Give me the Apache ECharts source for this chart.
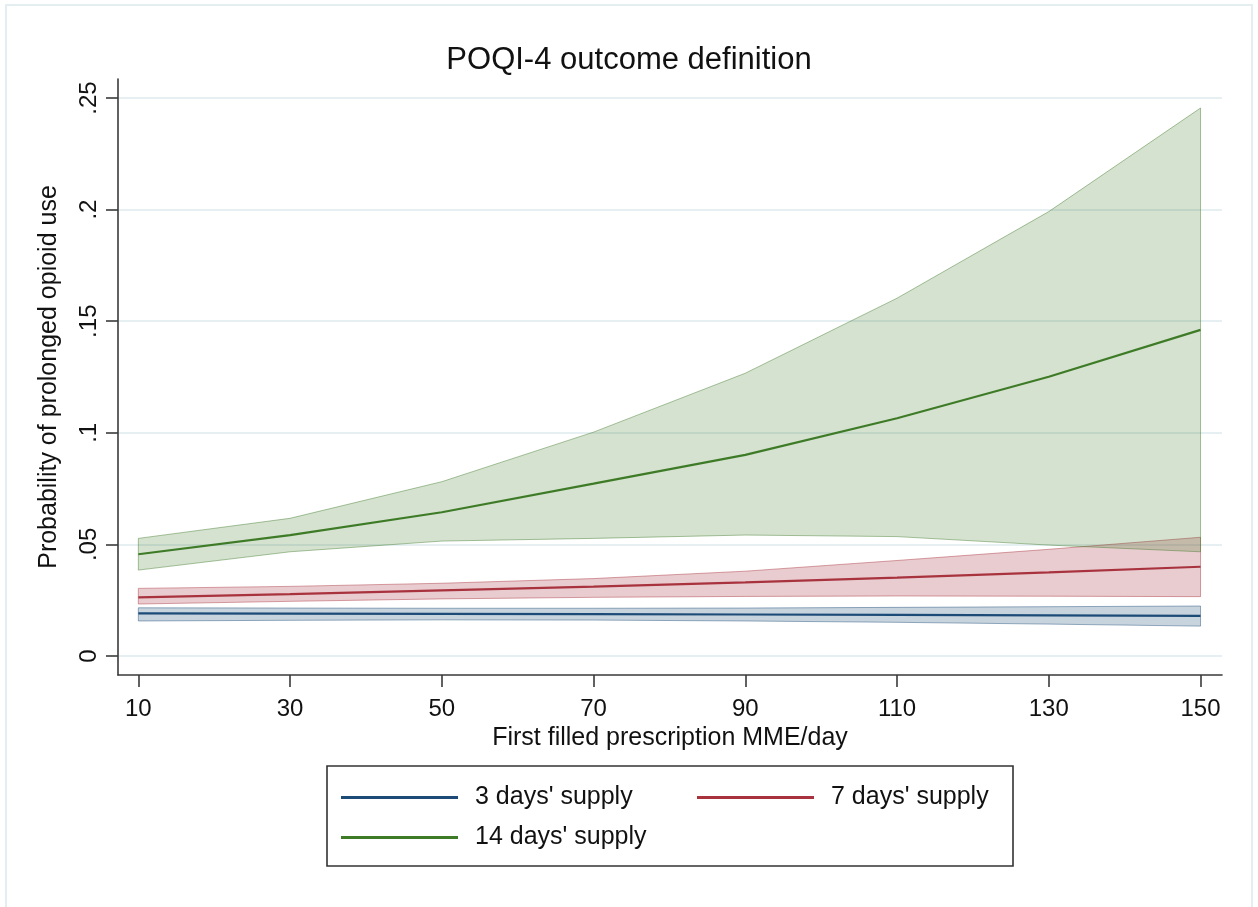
<!DOCTYPE html>
<html>
<head>
<meta charset="utf-8">
<title>POQI-4 outcome definition</title>
<script src="https://cdn.jsdelivr.net/npm/echarts@6/dist/echarts.min.js"></script>
<style>
  html, body { margin: 0; padding: 0; background: #ffffff; }
  #chart { width: 1258px; height: 907px; }
</style>
</head>
<body>
<div id="chart"></div>
<script>
// First filled prescription MME/day
const mmeValues = [10, 30, 50, 70, 90, 110, 130, 150];

// Predicted probability and 95% CI, 3 days' supply
const supply3Mean  = [0.0191, 0.0190, 0.0189, 0.0188, 0.0186, 0.0184, 0.0182, 0.0180];
const supply3Upper = [0.0216, 0.0215, 0.0214, 0.0214, 0.0215, 0.0218, 0.0221, 0.0224];
const supply3Lower = [0.0157, 0.0160, 0.0162, 0.0161, 0.0157, 0.0151, 0.0143, 0.0134];

// 7 days' supply
const supply7Mean  = [0.0263, 0.0277, 0.0294, 0.0311, 0.0330, 0.0351, 0.0375, 0.0400];
const supply7Upper = [0.0303, 0.0312, 0.0326, 0.0347, 0.0380, 0.0428, 0.0478, 0.0532];
const supply7Lower = [0.0233, 0.0245, 0.0256, 0.0263, 0.0267, 0.0269, 0.0268, 0.0266];

// 14 days' supply
const supply14Mean  = [0.0456, 0.0542, 0.0644, 0.0772, 0.0901, 0.1065, 0.1251, 0.1461];
const supply14Upper = [0.0527, 0.0617, 0.0781, 0.1003, 0.1267, 0.1603, 0.1991, 0.2455];
const supply14Lower = [0.0385, 0.0467, 0.0515, 0.0527, 0.0542, 0.0535, 0.0497, 0.0467];

// Axis ticks and their labels
const xTicks = [10, 30, 50, 70, 90, 110, 130, 150];
const yTicks = [0, 0.05, 0.1, 0.15, 0.2, 0.25];
const yTickLabels = ['0', '.05', '.1', '.15', '.2', '.25'];

const seriesNames = ["3 days' supply", "7 days' supply", "14 days' supply"];

const FONT = '"Liberation Sans", Arial, sans-serif';
const palette = {
  s3:  { line: '#1d4b78', fill: 'rgba(31,78,121,0.25)',  edge: 'rgba(31,78,121,0.45)' },
  s7:  { line: '#a8323e', fill: 'rgba(168,50,62,0.25)',  edge: 'rgba(168,50,62,0.45)' },
  s14: { line: '#3e7b27', fill: 'rgba(62,123,39,0.22)',  edge: 'rgba(62,123,39,0.45)' }
};

function pairs(ys) { return mmeValues.map((x, i) => [x, ys[i]]); }

// Confidence band drawn as one closed polygon: upper bound left-to-right, lower bound back
function band(lower, upper, col) {
  return {
    type: 'custom', silent: true, z: 2,
    data: mmeValues.map((x, i) => [x, lower[i], upper[i]]),
    encode: { x: 0, y: [1, 2] },
    renderItem: function (params, api) {
      if (params.dataIndex !== 0) return null;
      const top = mmeValues.map((x, i) => api.coord([x, upper[i]]));
      const bottom = mmeValues.map((x, i) => api.coord([x, lower[i]])).reverse();
      return {
        type: 'polygon',
        shape: { points: top.concat(bottom) },
        style: { fill: col.fill, stroke: col.edge, lineWidth: 1 }
      };
    }
  };
}

function meanLine(name, values, col) {
  return {
    type: 'line', name: name, data: pairs(values),
    symbol: 'none', smooth: false,
    lineStyle: { color: col.line, width: 2.2 },
    itemStyle: { color: col.line }, z: 4
  };
}

const legendText = { fontFamily: FONT, fontSize: 25, color: '#111', lineHeight: 25, padding: [0, 0, 0, 12] };
const legendBase = {
  orient: 'vertical', top: 785, padding: 0,
  icon: 'rect', itemWidth: 117, itemHeight: 3, itemGap: 15,
  textStyle: legendText
};

const option = {
  animation: false,
  backgroundColor: '#ffffff',
  title: {
    text: 'POQI-4 outcome definition',
    left: 'center', top: 40,
    textStyle: { fontFamily: FONT, fontSize: 31, fontWeight: 'normal', color: '#111' }
  },
  grid: { left: 118, right: 36, top: 79, bottom: 232, containLabel: false },
  xAxis: {
    type: 'value', min: 7.32, max: 152.83,
    name: 'First filled prescription MME/day',
    nameLocation: 'middle', nameGap: 46,
    nameTextStyle: { fontFamily: FONT, fontSize: 25, color: '#111' },
    axisLine: { show: true, onZero: false, lineStyle: { color: '#3a3a3a', width: 1.6 } },
    axisTick: { show: true, length: 12, customValues: xTicks, lineStyle: { color: '#3a3a3a', width: 1.6 } },
    axisLabel: { customValues: xTicks, margin: 22, fontFamily: FONT, fontSize: 24, color: '#111' },
    splitLine: { show: false }
  },
  yAxis: {
    type: 'value', min: -0.0085, max: 0.2585,
    name: 'Probability of prolonged opioid use',
    nameLocation: 'middle', nameGap: 56, nameRotate: 90,
    nameTextStyle: { fontFamily: FONT, fontSize: 25, color: '#111' },
    axisLine: { show: true, onZero: false, lineStyle: { color: '#3a3a3a', width: 1.6 } },
    axisTick: { show: true, length: 12, customValues: yTicks, lineStyle: { color: '#3a3a3a', width: 1.6 } },
    axisLabel: {
      customValues: yTicks, rotate: 90, margin: 17,
      fontFamily: FONT, fontSize: 24, color: '#111',
      formatter: function (v) {
        const i = yTicks.findIndex(t => Math.abs(t - v) < 1e-9);
        return i >= 0 ? yTickLabels[i] : '';
      }
    },
    splitLine: { show: true, lineStyle: { color: '#e6eff2', width: 2 } }
  },
  legend: [
    Object.assign({}, legendBase, { left: 341, data: [seriesNames[0], seriesNames[2]] }),
    Object.assign({}, legendBase, { left: 697, data: [seriesNames[1]] })
  ],
  graphic: [
    {
      type: 'rect', silent: true, z: -1,
      shape: { x: 6, y: 5, width: 1246, height: 910 },
      style: { fill: 'none', stroke: '#e4edf0', lineWidth: 2 }
    },
    {
      type: 'rect', silent: true,
      shape: { x: 327, y: 766, width: 686, height: 100 },
      style: { fill: 'none', stroke: '#333333', lineWidth: 1.6 }
    }
  ],
  series: [
    band(supply3Lower, supply3Upper, palette.s3),
    band(supply7Lower, supply7Upper, palette.s7),
    band(supply14Lower, supply14Upper, palette.s14),
    meanLine(seriesNames[0], supply3Mean, palette.s3),
    meanLine(seriesNames[1], supply7Mean, palette.s7),
    meanLine(seriesNames[2], supply14Mean, palette.s14)
  ]
};

const chart = echarts.init(document.getElementById('chart'), null, { renderer: 'canvas' });
chart.setOption(option);
</script>
</body>
</html>
